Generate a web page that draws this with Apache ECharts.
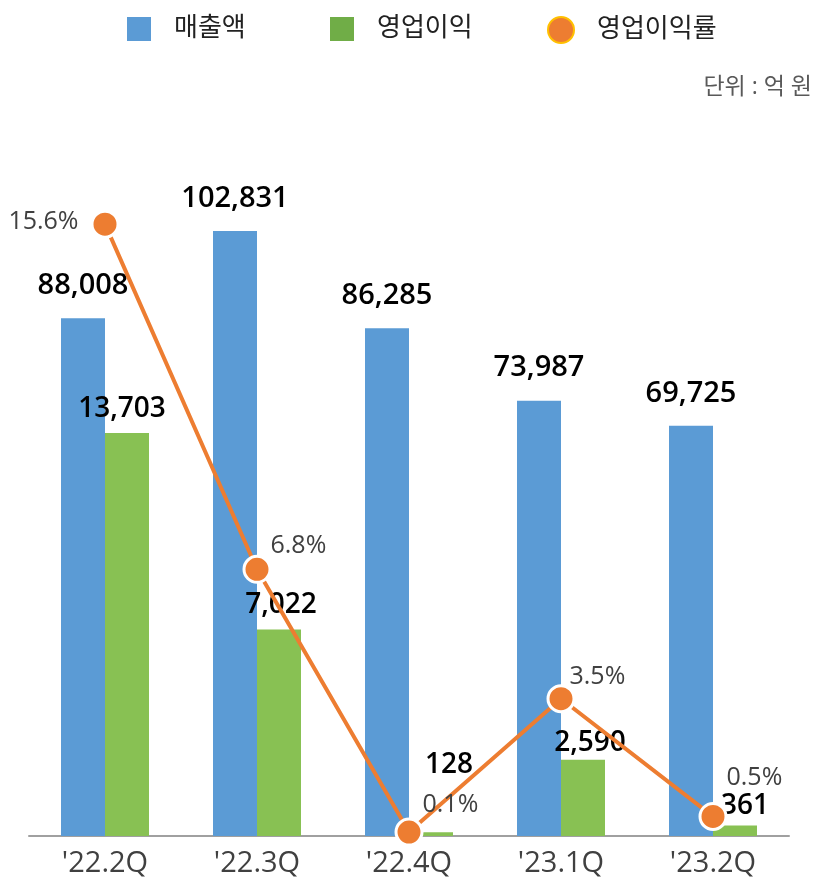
<!DOCTYPE html>
<html>
<head>
<meta charset="utf-8">
<title>실적 추이</title>
<script src="https://cdn.jsdelivr.net/npm/echarts@6/dist/echarts.min.js"></script>
</head>
<body style="margin:0">
<div id="main" style="width:816px;height:885px;"></div>
<script type="text/javascript">
// 분기 / 매출액 / 영업이익 / 영업이익률
var quarters = ["'22.2Q", "'22.3Q", "'22.4Q", "'23.1Q", "'23.2Q"];
var sales = [88008, 102831, 86285, 73987, 69725];
var profit = [13703, 7022, 128, 2590, 361];
var margin = [15.6, 6.8, 0.1, 3.5, 0.5];

var FONT = "'Open Sans', 'Noto Sans CJK KR', sans-serif";

// 영업이익 라벨 위치 보정
var profitOffsets = [[-5, 0], [2, 0], [18, -43], [7, 7], [10, 5]];
// 영업이익률 라벨 위치 보정
var marginLabels = [
    { position: 'left', distance: 12, offset: [0, -2] },
    { position: 'right', distance: 0, offset: [-1, -23] },
    { position: 'right', distance: 0, offset: [-1, -27] },
    { position: 'right', distance: 0, offset: [-6, -22] },
    { position: 'right', distance: 0, offset: [-1, -39] }
];

var myChart = echarts.init(document.getElementById('main'));

function legendBox(left, name, icon, size, style) {
    return {
        top: 11,
        left: left,
        icon: icon,
        itemWidth: size,
        itemHeight: size,
        itemGap: 0,
        selectedMode: false,
        textStyle: { fontFamily: FONT, fontSize: 26, color: '#222', padding: [0, 0, 0, 18] },
        data: [{ name: name, itemStyle: style }]
    };
}

var option = {
    animation: false,
    textStyle: { fontFamily: FONT },
    legend: [
        legendBox(122, '매출액', 'rect', 24, { color: '#5B9BD5' }),
        legendBox(325, '영업이익', 'rect', 24, { color: '#70AD47' }),
        legendBox(542, '영업이익률', 'circle', 26, { color: '#ED7D31', borderColor: '#FFC000', borderWidth: 2 })
    ],
    graphic: [{
        type: 'text',
        right: 4,
        top: 76,
        style: { text: '단위 : 억 원', fontFamily: FONT, fontSize: 23, fill: '#595959' }
    }],
    grid: { left: 29, right: 27, top: 130, bottom: 49 },
    xAxis: {
        type: 'category',
        data: quarters,
        axisTick: { show: false },
        axisLine: { lineStyle: { color: '#a0a0a0', width: 2 } },
        axisLabel: { fontSize: 29, color: '#404040', margin: 13, fontFamily: FONT }
    },
    yAxis: [
        { type: 'value', min: 0, max: 120000, show: false, splitLine: { show: false } },
        { type: 'value', min: 0, max: 24000, show: false, splitLine: { show: false } },
        { type: 'value', min: 0, max: 18, show: false, splitLine: { show: false } }
    ],
    series: [{
        name: '매출액',
        type: 'bar',
        yAxisIndex: 0,
        barWidth: 44,
        barGap: '0%',
        itemStyle: { color: '#5B9BD5' },
        label: {
            show: true, position: 'top', distance: 18,
            fontSize: 29, fontWeight: 600, color: '#000', fontFamily: FONT,
            formatter: function(p) { return p.value.toLocaleString('en-US'); }
        },
        data: sales
    }, {
        name: '영업이익',
        type: 'bar',
        yAxisIndex: 1,
        barWidth: 44,
        barGap: '0%',
        itemStyle: { color: '#88C153' },
        label: {
            show: true, position: 'top', distance: 10,
            fontSize: 28, fontWeight: 600, color: '#000', fontFamily: FONT,
            formatter: function(p) { return p.value.toLocaleString('en-US'); }
        },
        data: profit.map(function(v, i) {
            return { value: v, label: { offset: profitOffsets[i] } };
        })
    }, {
        name: '영업이익률',
        type: 'line',
        yAxisIndex: 2,
        z: 5,
        symbol: 'circle',
        symbolSize: 26,
        lineStyle: { color: '#ED7D31', width: 4 },
        itemStyle: { color: '#ED7D31', borderColor: '#fff', borderWidth: 3 },
        label: {
            show: true, fontSize: 25, color: '#404040', fontFamily: FONT,
            formatter: function(p) { return p.value.toFixed(1) + '%'; }
        },
        data: margin.map(function(v, i) {
            return { value: v, label: marginLabels[i] };
        })
    }]
};

myChart.setOption(option);
</script>
</body>
</html>
